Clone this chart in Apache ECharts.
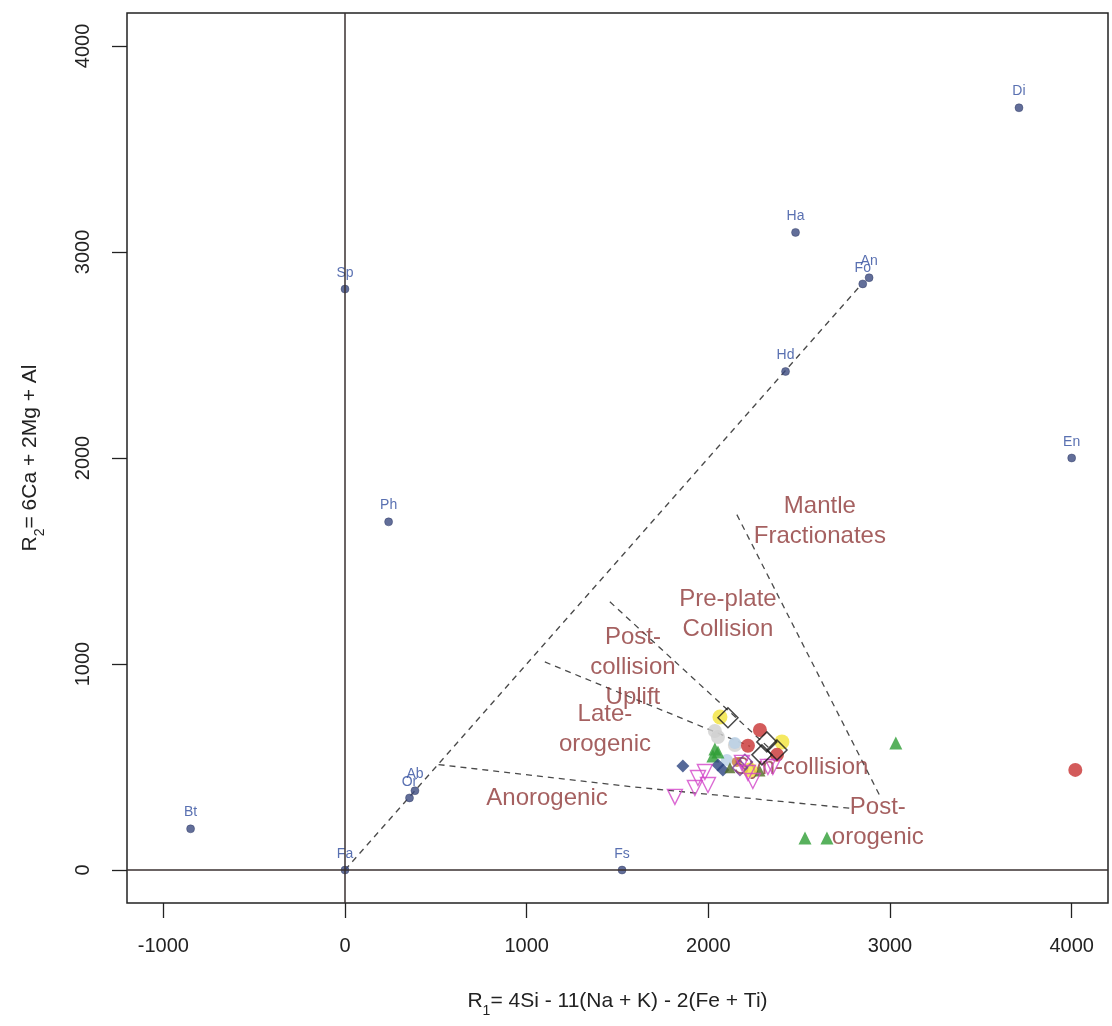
<!DOCTYPE html>
<html>
<head>
<meta charset="utf-8">
<script src="https://cdn.jsdelivr.net/npm/echarts@6/dist/echarts.min.js"></script>
<style>
html,body{margin:0;padding:0;background:#fff;}
#chart{width:1112px;height:1026px;}
</style>
</head>
<body>
<div id="chart"></div>
<script>
// ---- tick labels ----
const xTicks = [-1000, 0, 1000, 2000, 3000, 4000];
const yTicks = [0, 1000, 2000, 3000, 4000];

// ---- reference minerals ----
const mineralNames = ['Di', 'Ha', 'An', 'Fo', 'Hd', 'En', 'Sp', 'Ph', 'Bt', 'Fa', 'Fs', 'Ab', 'Or'];
const mineralR1 = [3710, 2480, 2885, 2850, 2425, 4000, 0, 240, -850, 0, 1525, 385, 355];
const mineralR2 = [3700, 3095, 2875, 2845, 2420, 2000, 2820, 1690, 200, 0, 0, 385, 350];

// ---- field boundary lines (R1, R2) ----
const diagR1 = [0, 2840];
const diagR2 = [0, 2840];
const anorogR1 = [515, 1570, 2780];
const anorogR2 = [512, 405, 300];
const lateR1 = [1100, 2230];
const lateR2 = [1010, 600];
const postCollR1 = [1458, 2350];
const postCollR2 = [1302, 580];
const mantleR1 = [2157, 2950];
const mantleR2 = [1725, 350];

// ---- field names ----
const fieldNames = ['Mantle\nFractionates', 'Pre-plate\nCollision', 'Post-\ncollision\nUplift', 'Late-\norogenic', 'Anorogenic', 'Syn-collision', 'Post-\norogenic'];
const fieldR1 = [2614, 2108, 1585, 1431, 1112, 2510, 2933];
const fieldR2 = [1691, 1239, 986, 685, 350, 500, 233];

// ---- samples ----
const yellowR1 = [2064, 2405, 2229];
const yellowR2 = [743, 622, 486];
const openDiamondR1 = [2108, 2322, 2295, 2378];
const openDiamondR2 = [739, 622, 559, 583];
const redR1 = [2284, 2218, 2378, 4020];
const redR2 = [680, 603, 559, 486];
const greenR1 = [2036, 2025, 2053, 3032, 2532, 2653];
const greenR2 = [588, 554, 573, 617, 155, 155];
const greyR1 = [2036, 2053, 2146];
const greyR2 = [675, 646, 607];
const navyR1 = [1860, 2053, 2080];
const navyR2 = [505, 510, 486];
const magentaR1 = [1816, 1926, 1943, 1981, 1998, 2218, 2245, 2328, 2355, 2185];
const magentaR2 = [355, 398, 447, 476, 413, 471, 432, 500, 500, 520];
const purpleR1 = [2201, 2174];
const purpleR2 = [525, 496];
const oliveR1 = [2284, 2119];
const oliveR2 = [481, 496];
const lightBlueR1 = [2146, 2102];
const lightBlueR2 = [617, 534];
const orangeR1 = [2157];
const orangeR2 = [525];

const pairs = (a, b) => a.map((v, i) => [v, b[i]]);
const FONT = "'Liberation Sans', Arial, sans-serif";

const dashed = (name, a, b) => ({
  type: 'line', name, data: pairs(a, b), symbol: 'none', silent: true, z: 2,
  lineStyle: { color: '#4a4a4a', width: 1.3, type: [6, 5] }
});

const group = (name, a, b, style) => Object.assign({
  type: 'scatter', name, data: pairs(a, b), z: 5, silent: true
}, style);

const chart = echarts.init(document.getElementById('chart'), null, { renderer: 'canvas' });

chart.setOption({
  animation: false,
  backgroundColor: '#ffffff',
  grid: {
    left: 127, right: 4, top: 13, bottom: 123,
    show: true, borderColor: '#222', borderWidth: 1.5, backgroundColor: 'transparent'
  },
  xAxis: {
    type: 'value', min: -1200, max: 4200,
    axisLine: { show: false, onZero: false },
    splitLine: { show: false },
    axisTick: { show: true, length: 15, inside: false, customValues: xTicks, lineStyle: { color: '#222', width: 1.3 } },
    axisLabel: { customValues: xTicks, margin: 33, fontSize: 20, color: '#222', fontFamily: FONT, formatter: v => String(v) },
    name: '{b|R}{s|1}{b|= 4Si - 11(Na + K) - 2(Fe + Ti)}',
    nameLocation: 'middle', nameGap: 88,
    nameTextStyle: {
      fontFamily: FONT, color: '#222',
      rich: {
        b: { fontSize: 21, fontFamily: FONT, color: '#222', padding: [0, 0, 6, 0], verticalAlign: 'bottom' },
        s: { fontSize: 14, fontFamily: FONT, color: '#222', verticalAlign: 'bottom' }
      }
    }
  },
  yAxis: {
    type: 'value', min: -160, max: 4160,
    axisLine: { show: false, onZero: false },
    splitLine: { show: false },
    axisTick: { show: true, length: 15, inside: false, customValues: yTicks, lineStyle: { color: '#222', width: 1.3 } },
    axisLabel: { customValues: yTicks, rotate: 90, margin: 34, fontSize: 20, color: '#222', fontFamily: FONT, formatter: v => String(v) },
    name: '{b|R}{s|2}{b|= 6Ca + 2Mg + Al}',
    nameLocation: 'middle', nameGap: 80, nameRotate: 90,
    nameTextStyle: {
      fontFamily: FONT, color: '#222',
      rich: {
        b: { fontSize: 21, fontFamily: FONT, color: '#222', padding: [0, 0, 6, 0], verticalAlign: 'bottom' },
        s: { fontSize: 14, fontFamily: FONT, color: '#222', verticalAlign: 'bottom' }
      }
    }
  },
  series: [
    {
      type: 'line', name: 'zero', data: [], silent: true, z: 1,
      markLine: {
        silent: true, symbol: 'none', animation: false,
        label: { show: false },
        lineStyle: { color: '#3a3030', type: 'solid', width: 1.5 },
        data: [{ xAxis: 0 }, { yAxis: 0 }]
      }
    },
    dashed('diag', diagR1, diagR2),
    dashed('anorogenic', anorogR1, anorogR2),
    dashed('late', lateR1, lateR2),
    dashed('postcoll', postCollR1, postCollR2),
    dashed('mantle', mantleR1, mantleR2),
    {
      type: 'scatter', name: 'fields', silent: true, z: 3,
      symbolSize: 1, itemStyle: { color: 'rgba(0,0,0,0)' },
      data: fieldNames.map((n, i) => ({ name: n, value: [fieldR1[i], fieldR2[i]] })),
      label: {
        show: true, position: 'inside', formatter: '{b}',
        fontSize: 24, lineHeight: 30, color: '#8e3838', fontFamily: FONT, align: 'center'
      }
    },
    {
      type: 'scatter', name: 'minerals', silent: true, z: 4,
      symbol: 'circle', symbolSize: 8,
      itemStyle: { color: '#3b4a80', borderColor: '#2a3560', borderWidth: 0.5 },
      data: mineralNames.map((n, i) => ({ name: n, value: [mineralR1[i], mineralR2[i]] })),
      label: {
        show: true, position: 'top', distance: 5, formatter: '{b}',
        fontSize: 14, color: '#2f4c9e', fontFamily: FONT
      }
    },
    group('grey', greyR1, greyR2, { symbol: 'circle', symbolSize: 14, itemStyle: { color: '#cfcfcf' } }),
    group('lightblue', lightBlueR1, lightBlueR2, { symbol: 'circle', symbolSize: 12, itemStyle: { color: '#b8cfe6' } }),
    group('yellow', yellowR1, yellowR2, { symbol: 'circle', symbolSize: 15, itemStyle: { color: '#f2e43a' } }),
    group('green', greenR1, greenR2, { symbol: 'triangle', symbolSize: 13, itemStyle: { color: '#2e9e35' } }),
    group('navy', navyR1, navyR2, { symbol: 'diamond', symbolSize: 13, itemStyle: { color: '#2c4480' } }),
    group('orange', orangeR1, orangeR2, { symbol: 'circle', symbolSize: 10, itemStyle: { color: '#c77a3a' } }),
    group('olive', oliveR1, oliveR2, { symbol: 'triangle', symbolSize: 11, itemStyle: { color: '#4d6a22' } }),
    group('red', redR1, redR2, { symbol: 'circle', symbolSize: 14, itemStyle: { color: '#c83232' } }),
    group('purple', purpleR1, purpleR2, { symbol: 'diamond', symbolSize: 15, itemStyle: { color: 'rgba(0,0,0,0)', borderColor: '#7a3a9a', borderWidth: 1.5 } }),
    group('magenta', magentaR1, magentaR2, { symbol: 'triangle', symbolRotate: 180, symbolSize: 15, itemStyle: { color: 'rgba(0,0,0,0)', borderColor: '#d244c8', borderWidth: 1.4 } }),
    group('openDiamond', openDiamondR1, openDiamondR2, { symbol: 'diamond', symbolSize: 20, itemStyle: { color: 'rgba(0,0,0,0)', borderColor: '#1a1a1a', borderWidth: 1.5 } })
  ]
});
</script>
</body>
</html>
